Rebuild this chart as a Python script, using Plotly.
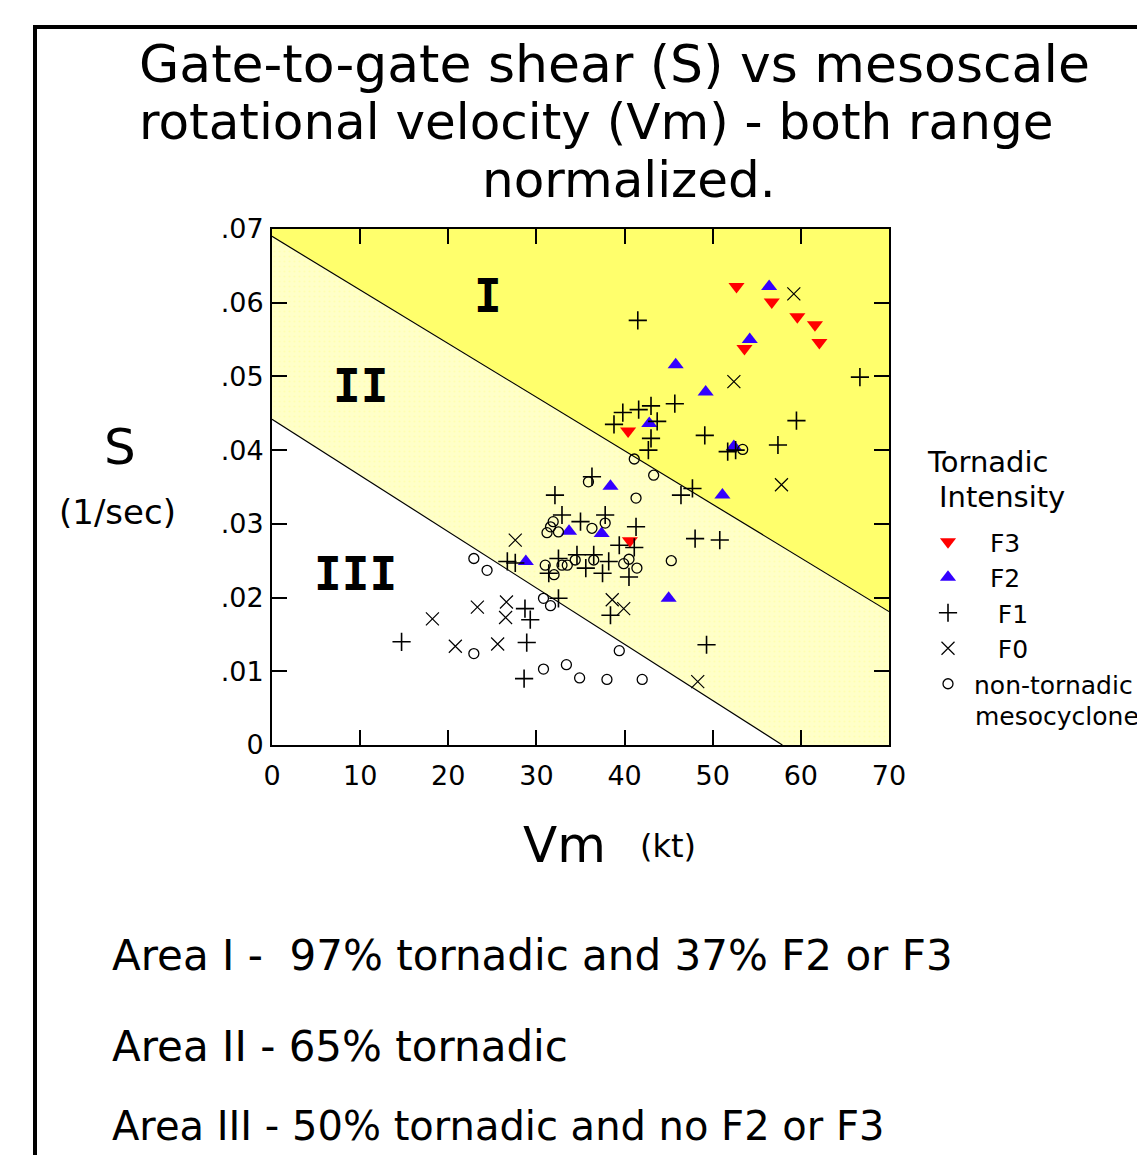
import plotly.graph_objects as go

# ---------------- data ----------------
f3_vm = [52.7, 56.7, 59.6, 61.6, 62.1, 53.6, 40.4, 40.6]
f3_s = [0.0622, 0.0601, 0.0581, 0.0570, 0.0546, 0.0538, 0.0426, 0.0277]

f2_vm = [56.4, 54.2, 45.8, 49.2, 42.8, 52.4, 38.4, 51.1, 37.4, 33.7, 28.8, 45.0]
f2_s = [0.0622, 0.0550, 0.0516, 0.0479, 0.0436, 0.0405, 0.0351, 0.0339, 0.0287, 0.0290, 0.0249, 0.0199]

f1_vm = [41.5, 66.7, 45.7, 43.0, 41.6, 39.8, 38.8, 43.7, 59.5, 49.1, 43.0, 42.7, 57.4, 51.7, 52.6,
         47.7, 46.4, 36.3, 32.1, 32.9, 35.0, 37.8, 41.3, 39.4, 41.1, 48.0, 50.8, 26.7, 27.6, 32.5,
         31.4, 34.6, 35.6, 36.5, 38.2, 37.5, 40.5, 32.5, 38.4, 28.7, 29.3, 14.7, 28.9, 49.3, 28.6]
f1_s = [0.0576, 0.0499, 0.0463, 0.0460, 0.0455, 0.0451, 0.0435, 0.0439, 0.0440, 0.0420, 0.0416, 0.0400, 0.0407, 0.0398, 0.0400,
        0.0348, 0.0339, 0.0364, 0.0339, 0.0312, 0.0303, 0.0312, 0.0296, 0.0271, 0.0268, 0.0280, 0.0278, 0.0249, 0.0247, 0.0253,
        0.0233, 0.0258, 0.0240, 0.0258, 0.0249, 0.0233, 0.0228, 0.0199, 0.0176, 0.0185, 0.0170, 0.0140, 0.0139, 0.0136, 0.0090]

f0_vm = [59.2, 52.4, 57.8, 27.6, 38.6, 39.9, 26.6, 23.3, 26.5, 18.2, 20.8, 25.6, 48.3]
f0_s = [0.0612, 0.0493, 0.0353, 0.0278, 0.0197, 0.0185, 0.0194, 0.0187, 0.0173, 0.0171, 0.0134, 0.0137, 0.0086]

nt_vm = [53.4, 41.1, 43.3, 35.9, 41.3, 31.9, 31.6, 31.2, 32.5, 36.3, 37.8, 31.0, 32.0, 32.9, 33.5, 34.4,
         36.5, 40.5, 39.9, 41.4, 45.3, 22.9, 24.4, 30.8, 31.6, 39.4, 30.8, 33.4, 34.9, 38.0, 42.0, 22.9]
nt_s = [0.0401, 0.0388, 0.0366, 0.0357, 0.0335, 0.0303, 0.0296, 0.0288, 0.0289, 0.0294, 0.0301, 0.0244, 0.0231, 0.0244, 0.0244, 0.0251,
        0.0251, 0.0252, 0.0246, 0.0240, 0.0250, 0.0253, 0.0237, 0.0199, 0.0189, 0.0128, 0.0103, 0.0109, 0.0091, 0.0089, 0.0089, 0.0124]

# area boundary lines
upper_vm = [0, 70]
upper_s = [0.0690, 0.0181]
lower_vm = [0, 57.9]
lower_s = [0.0442, 0.0]

x_range = [0, 70]
y_range = [0, 0.07]
y_tickvals = [0, 0.01, 0.02, 0.03, 0.04, 0.05, 0.06, 0.07]
y_ticktext = ["0", ".01", ".02", ".03", ".04", ".05", ".06", ".07"]
x_tickvals = [0, 10, 20, 30, 40, 50, 60, 70]

# ---------------- layout helpers (page pixel coordinates) ----------------
PAGE_W, PAGE_H = 1145, 1155
OFF = 8  # default body margin of the page
L, R, T, B = 272, 889, 229, 745  # plot area in page pixels


def px(x):
    return (x - L) / (R - L)


def py(y):
    return (B - y) / (B - T)


FONT = "DejaVu Sans"

fig = go.Figure()

# Area I (upper) fill
fig.add_trace(go.Scatter(
    x=[upper_vm[0], upper_vm[1], x_range[1], x_range[0]],
    y=[upper_s[0], upper_s[1], y_range[1], y_range[1]],
    fill="toself", fillcolor="#FFFF6C", mode="lines", line=dict(width=0),
    hoverinfo="skip", showlegend=False))
# Area II (middle) fill
fig.add_trace(go.Scatter(
    x=[lower_vm[0], lower_vm[1], x_range[1], upper_vm[1], upper_vm[0]],
    y=[lower_s[0], lower_s[1], y_range[0], upper_s[1], upper_s[0]],
    fill="toself", fillcolor="#FFFFC6", mode="lines", line=dict(width=0),
    fillpattern=dict(shape=".", fgcolor="#FFFF99", bgcolor="#FFFFC8", size=5, solidity=0.15),
    hoverinfo="skip", showlegend=False))
# boundary lines
fig.add_trace(go.Scatter(x=upper_vm, y=upper_s, mode="lines",
                         line=dict(color="black", width=1.2), hoverinfo="skip", showlegend=False))
fig.add_trace(go.Scatter(x=lower_vm, y=lower_s, mode="lines",
                         line=dict(color="black", width=1.2), hoverinfo="skip", showlegend=False))

nb = "\u00a0"
fig.add_trace(go.Scatter(x=f3_vm, y=f3_s, mode="markers", name=nb * 2 + "F3",
                         marker=dict(symbol="triangle-down", size=14, color="#FF0000", line=dict(width=0))))
fig.add_trace(go.Scatter(x=f2_vm, y=f2_s, mode="markers", name=nb * 2 + "F2",
                         marker=dict(symbol="triangle-up", size=14, color="#3300FF", line=dict(width=0))))
fig.add_trace(go.Scatter(x=f1_vm, y=f1_s, mode="markers", name=nb * 3 + "F1",
                         marker=dict(symbol="cross-thin-open", size=13, color="black",
                                     line=dict(width=1.6, color="black"))))
fig.add_trace(go.Scatter(x=f0_vm, y=f0_s, mode="markers", name=nb * 3 + "F0",
                         marker=dict(symbol="x-thin-open", size=13, color="black",
                                     line=dict(width=1.2, color="black"))))
fig.add_trace(go.Scatter(x=nt_vm, y=nt_s, mode="markers", name="non-tornadic",
                         marker=dict(symbol="circle-open", size=10, color="black",
                                     line=dict(width=1.3, color="black"))))

annotations = []


def ann(text, x, y, size, xanchor="center", family=FONT, bold=False):
    annotations.append(dict(
        text=("<b>%s</b>" % text) if bold else text,
        x=px(x), y=py(y), xref="paper", yref="paper",
        xanchor=xanchor, yanchor="middle", showarrow=False,
        font=dict(family=family, size=size, color="black")))


# title
ann("Gate-to-gate shear (S) vs mesoscale", 137, 64, 52, "left")
ann("rotational velocity (Vm) - both range", 137, 122, 50, "left")
ann("normalized.", 629, 180, 50, "center")

# axis titles
ann("S", 120, 447, 50)
ann("(1/sec)", 117, 512, 34)
ann("Vm", 564, 845, 50)
ann("(kt)", 668, 846, 32)

# area labels in plot
ann("I", 488, 296, 46, family="DejaVu Sans Mono", bold=True)
ann("II", 360, 386, 46, family="DejaVu Sans Mono", bold=True)
ann("III", 355, 574, 46, family="DejaVu Sans Mono", bold=True)

# legend heading and continuation line
ann("Tornadic", 925, 462, 29, "left")
ann("Intensity", 937, 497, 29, "left")
ann("mesocyclone", 973, 716, 25, "left")

# bottom text
ann("Area I -" + nb + " 97% tornadic and 37% F2 or F3", 110, 955, 42, "left")
ann("Area II - 65% tornadic", 110, 1046, 42, "left")
ann("Area III - 50% tornadic and no F2 or F3", 110, 1126, 40, "left")

shapes = [
    dict(type="line", xref="paper", yref="paper", x0=px(35), x1=px(35), y0=py(25), y1=py(1200),
         line=dict(color="black", width=4)),
    dict(type="line", xref="paper", yref="paper", x0=px(33), x1=px(1200), y0=py(27), y1=py(27),
         line=dict(color="black", width=4)),
]

axis_common = dict(showgrid=False, zeroline=False, showline=True, linecolor="black", linewidth=2,
                   mirror="ticks", ticks="inside", ticklen=15, tickwidth=1.5, tickcolor="black",
                   tickfont=dict(family=FONT, size=27, color="black"))

fig.update_layout(
    width=PAGE_W - OFF, height=PAGE_H - OFF,
    margin=dict(l=L - OFF, r=PAGE_W - R, t=T - OFF, b=PAGE_H - B, autoexpand=False),
    paper_bgcolor="white", plot_bgcolor="white",
    xaxis=dict(range=x_range, tickvals=x_tickvals, ticklabelstandoff=6, **axis_common),
    yaxis=dict(range=y_range, tickvals=y_tickvals, ticktext=y_ticktext, ticklabelstandoff=1, **axis_common),
    showlegend=True,
    legend=dict(
        x=px(922), y=py(519), xanchor="left", yanchor="top",
        bgcolor="rgba(0,0,0,0)", borderwidth=0,
        font=dict(family=FONT, size=25, color="black"),
        itemwidth=42, itemsizing="trace", traceorder="normal",
    ),
    annotations=annotations, shapes=shapes,
)

fig.write_html("out.html")
